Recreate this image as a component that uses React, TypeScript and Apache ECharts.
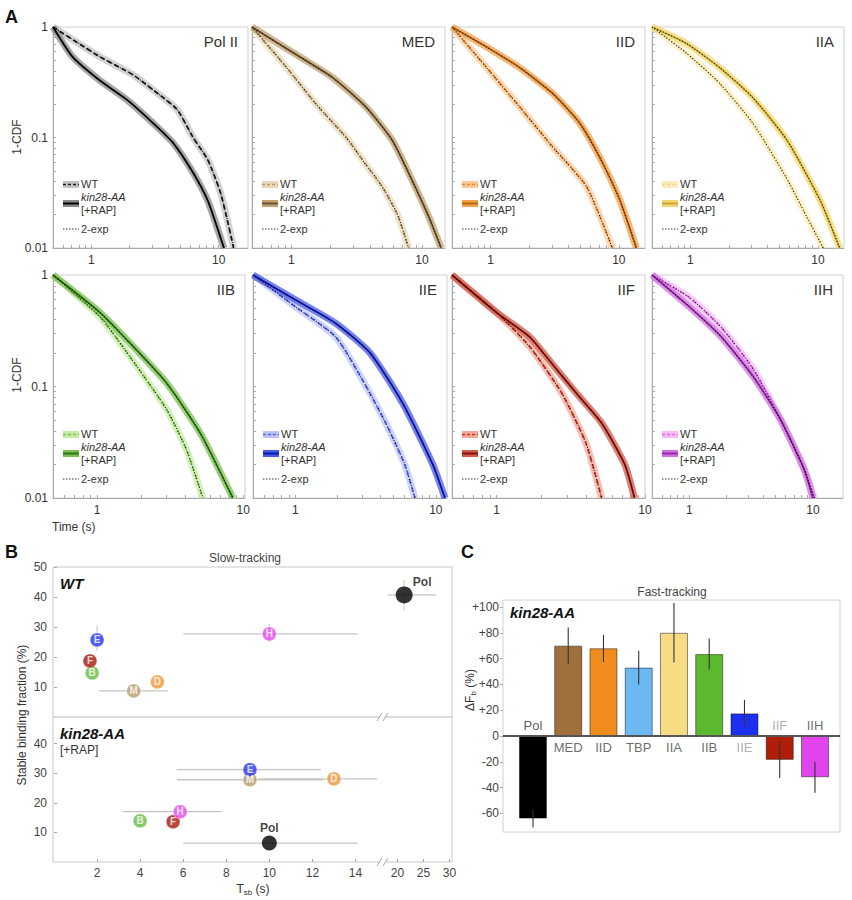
import { useEffect, useRef } from 'react';
import * as echarts from 'echarts';

const FONT = '"Liberation Sans", Arial, Helvetica, sans-serif';
type Pt = [number, number];

// ---------- Panel A: 1-CDF survival curves [time (s), 1-CDF] ----------
const polII_WT: Pt[] = [[0.5, 1], [1.16, 0.54], [2.12, 0.37], [3.05, 0.27], [4.7, 0.18], [6.3, 0.1], [8.2, 0.063], [10.4, 0.031], [13.1, 0.01]];
const polII_KIN: Pt[] = [[0.5, 1], [0.71, 0.54], [1.16, 0.33], [1.9, 0.22], [3.05, 0.135], [4.4, 0.089], [6.3, 0.048], [8.2, 0.027], [9.8, 0.015], [11, 0.01]];
const med_WT: Pt[] = [[0.5, 1], [0.92, 0.43], [1.55, 0.2], [2.63, 0.1], [3.6, 0.06], [4.95, 0.036], [6.5, 0.02], [7.9, 0.01]];
const med_KIN: Pt[] = [[0.5, 1], [1.15, 0.54], [2.06, 0.35], [3.7, 0.19], [5.9, 0.095], [8.4, 0.041], [11.3, 0.019], [14, 0.01]];
const iid_WT: Pt[] = [[0.5, 1], [0.93, 0.43], [1.68, 0.19], [3.05, 0.082], [5.6, 0.036], [8.9, 0.01]];
const iid_KIN: Pt[] = [[0.5, 1], [0.93, 0.66], [1.68, 0.43], [3.05, 0.25], [4.95, 0.135], [7.1, 0.066], [10.2, 0.027], [13.7, 0.01]];
const iia_WT: Pt[] = [[0.5, 1], [0.93, 0.58], [1.69, 0.31], [3.08, 0.135], [5.6, 0.044], [8.2, 0.019], [11, 0.01]];
const iia_KIN: Pt[] = [[0.5, 1], [0.93, 0.71], [1.69, 0.43], [3.08, 0.23], [5.7, 0.095], [10.4, 0.027], [14.8, 0.01]];
const iib_WT: Pt[] = [[0.5, 1], [1.05, 0.42], [1.76, 0.17], [3.0, 0.062], [4.1, 0.027], [5.3, 0.01]];
const iib_KIN: Pt[] = [[0.5, 1], [1.05, 0.46], [1.76, 0.23], [3.0, 0.107], [5.1, 0.038], [8.5, 0.01]];
const iie_WT: Pt[] = [[0.5, 1], [1.0, 0.52], [1.93, 0.28], [3.0, 0.115], [4.4, 0.047], [6.0, 0.02], [7.1, 0.01]];
const iie_KIN: Pt[] = [[0.5, 1], [1.0, 0.6], [1.93, 0.37], [3.4, 0.2], [5.8, 0.071], [9.5, 0.02], [11.6, 0.01]];
const iif_WT: Pt[] = [[0.5, 1], [1.0, 0.46], [1.66, 0.23], [2.75, 0.087], [4.0, 0.031], [5.1, 0.01]];
const iif_KIN: Pt[] = [[0.5, 1], [1.0, 0.46], [1.66, 0.28], [2.36, 0.16], [3.5, 0.085], [5.1, 0.047], [7.3, 0.02], [8.5, 0.01]];
const iih_WT: Pt[] = [[0.5, 1], [1.0, 0.63], [1.81, 0.34], [3.34, 0.14], [5.5, 0.05], [8.5, 0.018], [10.3, 0.01]];
const iih_KIN: Pt[] = [[0.5, 1], [1.0, 0.52], [1.81, 0.28], [3.34, 0.12], [5.5, 0.05], [8.5, 0.018], [10, 0.01]];

const panelTitles = ['Pol II', 'MED', 'IID', 'IIA', 'IIB', 'IIE', 'IIF', 'IIH'];
const panelWT = [polII_WT, med_WT, iid_WT, iia_WT, iib_WT, iie_WT, iif_WT, iih_WT];
const panelKIN = [polII_KIN, med_KIN, iid_KIN, iia_KIN, iib_KIN, iie_KIN, iif_KIN, iih_KIN];
const panelXMax = [17, 15, 16, 16, 10.3, 12, 10, 17.5];
const xTickValues = [0.5, 0.6, 0.7, 0.8, 0.9, 1, 2, 3, 4, 5, 6, 7, 8, 9, 10, 20];
const xLabelValues = [1, 10];
const yTickValues = [0.01, 0.02, 0.03, 0.04, 0.05, 0.06, 0.07, 0.08, 0.09, 0.1, 0.2, 0.3, 0.4, 0.5, 0.6, 0.7, 0.8, 0.9, 1];
const yLabelValues = [0.01, 0.1, 1];

// ---------- Panel B: slow-tracking ----------
const bLetters = ['Pol', 'M', 'D', 'B', 'E', 'F', 'H'];
const wtTsb = [21.3, 3.7, 4.8, 1.77, 2.0, 1.67, 10.0];
const wtFrac = [40.7, 8.7, 11.7, 14.7, 25.7, 18.7, 27.7];
const wtTsbLo = [18.1, 2.1, 4.5, 1.6, 1.8, 1.5, 6.0];
const wtTsbHi = [27.5, 5.3, 5.2, 1.9, 2.2, 1.8, 14.1];
const wtFracLo = [35.7, 7.5, 10.5, 13.5, 22, 17, 25];
const wtFracHi = [45.7, 10, 13, 16, 30.5, 20.5, 31];
const kinTsb = [10.0, 9.1, 13.0, 4.0, 9.1, 5.53, 5.86];
const kinFrac = [6.4, 27.8, 28.1, 13.9, 31.2, 13.6, 17.0];
const kinTsbLo = [6.0, 5.7, 9.5, 3.8, 5.7, 5.3, 3.2];
const kinTsbHi = [14.1, 12.5, 15.5, 4.2, 12.4, 5.8, 7.8];
const kinFracLo = [5.4, 26.8, 27.1, 12.9, 30.2, 12.6, 16.0];
const kinFracHi = [7.4, 28.8, 29.1, 14.9, 32.2, 14.6, 18.0];
const bLeftTicks = [2, 4, 6, 8, 10, 12, 14];
const bRightTicks = [20, 25, 30];
const bWtYTicks = [10, 20, 30, 40, 50];
const bKinYTicks = [10, 20, 30, 40];

// ---------- Panel C: fast-tracking ----------
const cCats = ['Pol', 'MED', 'IID', 'TBP', 'IIA', 'IIB', 'IIE', 'IIF', 'IIH'];
const cVals = [-64, 70, 68, 53, 80, 63.5, 17.5, -18.5, -32];
const cErr = [7, 14, 10.5, 13, 23, 12, 10.5, 14, 12];
const cYTicks = [-60, -40, -20, 0, 20, 40, 60, 80, 100];

// ---------- styles ----------
const panelColors = [
  { wt: '#1a1a1a', wtBand: '#c4c4c4', kin: '#000000', kinBand: '#8a8a8a' },
  { wt: '#b59a6a', wtBand: '#e8d8b8', kin: '#6b5230', kinBand: '#c2a070' },
  { wt: '#ec8a32', wtBand: '#f9c998', kin: '#b8640e', kinBand: '#f2a04a' },
  { wt: '#eed886', wtBand: '#faeec0', kin: '#c8a830', kinBand: '#f2d870' },
  { wt: '#76c646', wtBand: '#c8eaa8', kin: '#2f7a14', kinBand: '#7cc052' },
  { wt: '#5868ee', wtBand: '#bcc4fa', kin: '#0c1aa8', kinBand: '#4a5ae8' },
  { wt: '#cc3a28', wtBand: '#f3a898', kin: '#881008', kinBand: '#d25a48' },
  { wt: '#e26aea', wtBand: '#f6bcf9', kin: '#9a2aa8', kinBand: '#d070e0' },
];
const bColors = ['#000000', '#b89a6a', '#f0963a', '#66bc40', '#2436ee', '#a41a0e', '#e24cea'];
const cColors = ['#000000', '#a0703c', '#f08c1e', '#6cb8f0', '#f8dc84', '#5cb82c', '#1c30f0', '#b01e0a', '#e044ec'];
const cLabelColors = ['#333', '#444', '#444', '#444', '#444', '#444', '#999', '#999', '#444'];

const aGrids = [
  { left: 53, top: 27, width: 195, height: 221 },
  { left: 252, top: 27, width: 193, height: 221 },
  { left: 452, top: 27, width: 193, height: 221 },
  { left: 652, top: 27, width: 192, height: 221 },
  { left: 53, top: 275, width: 192, height: 223 },
  { left: 253, top: 275, width: 194, height: 223 },
  { left: 452, top: 275, width: 193, height: 223 },
  { left: 652, top: 275, width: 191, height: 223 },
];

function txt(x: number, y: number, text: string, o: any = {}) {
  return {
    type: 'text', x, y, rotation: o.rot || 0, silent: true,
    style: {
      text, fill: o.color || '#333', fontSize: o.size || 12, fontFamily: FONT,
      fontWeight: o.weight || 'normal', fontStyle: o.italic ? 'italic' : 'normal',
      align: o.align || 'left', verticalAlign: 'middle', rich: o.rich,
    },
  };
}
function ln(x1: number, y1: number, x2: number, y2: number, stroke = '#c8c8c8', w = 1, dash?: number[]) {
  return { type: 'line', silent: true, shape: { x1, y1, x2, y2 }, style: { stroke, lineWidth: w, lineDash: dash } };
}

const vErrRender = (color: string, w: number) => (params: any, api: any) => {
  const x = api.value(0);
  const p1 = api.coord([x, api.value(1)]);
  const p2 = api.coord([x, api.value(2)]);
  return { type: 'line', shape: { x1: p1[0], y1: p1[1], x2: p2[0], y2: p2[1] }, style: { stroke: color, lineWidth: w } };
};
const hErrRender = (color: string, w: number) => (params: any, api: any) => {
  const y = api.value(2);
  const p1 = api.coord([api.value(0), y]);
  const p2 = api.coord([api.value(1), y]);
  return { type: 'line', shape: { x1: p1[0], y1: p1[1], x2: p2[0], y2: p2[1] }, style: { stroke: color, lineWidth: w } };
};

function buildOption() {
  const grid: any[] = [];
  const xAxis: any[] = [];
  const yAxis: any[] = [];
  const series: any[] = [];
  const graphic: any[] = [];

  // ----- Panel A -----
  aGrids.forEach((g, i) => {
    grid.push({ ...g, show: true, borderColor: '#d0d0d0', borderWidth: 1 });
    xAxis.push({
      type: 'log', logBase: 10, gridIndex: i, min: 0.5, max: panelXMax[i],
      axisLine: { show: true, onZero: false, lineStyle: { color: '#aaa' } },
      axisTick: { show: true, inside: true, length: 3, customValues: xTickValues, lineStyle: { color: '#aaa' } },
      axisLabel: { customValues: xLabelValues, color: '#333', fontSize: 12, margin: 6, fontFamily: FONT, formatter: (v: number) => String(v) },
      splitLine: { show: false },
    });
    yAxis.push({
      type: 'log', logBase: 10, gridIndex: i, min: 0.01, max: 1,
      axisLine: { show: true, onZero: false, lineStyle: { color: '#aaa' } },
      axisTick: { show: true, inside: true, length: 3, customValues: yTickValues, lineStyle: { color: '#aaa' } },
      axisLabel: { show: i % 4 === 0, customValues: yLabelValues, color: '#333', fontSize: 12, margin: 5, fontFamily: FONT, formatter: (v: number) => String(v) },
      splitLine: { show: false },
    });
    const c = panelColors[i];
    const curves: [Pt[], string, string, boolean][] = [
      [panelWT[i], c.wt, c.wtBand, true],
      [panelKIN[i], c.kin, c.kinBand, false],
    ];
    curves.forEach(([data, col, band, dashed]) => {
      const base = { type: 'line', xAxisIndex: i, yAxisIndex: i, data, showSymbol: false, smooth: 0.2, silent: true };
      series.push({ ...base, z: 2, lineStyle: { width: 7, color: band, opacity: 0.75 } });
      series.push({ ...base, z: 3, lineStyle: { width: 1.8, color: col, type: dashed ? [5, 3] : 'solid' } });
      series.push({ ...base, z: 4, lineStyle: { width: 1.1, color: '#111', type: [1, 2] } });
    });
    // title
    graphic.push(txt(g.left + g.width - 10, g.top + 14, panelTitles[i], { size: 15, align: 'right', color: '#333' }));
    // legend
    const L = g.left, B = g.top + g.height;
    graphic.push({ type: 'rect', silent: true, shape: { x: L + 10, y: B - 67, width: 16, height: 7 }, style: { fill: c.wtBand } });
    graphic.push(ln(L + 10, B - 63.5, L + 26, B - 63.5, c.wt, 1.6, [3, 2]));
    graphic.push({ type: 'rect', silent: true, shape: { x: L + 10, y: B - 48, width: 16, height: 7 }, style: { fill: c.kinBand } });
    graphic.push(ln(L + 10, B - 44.5, L + 26, B - 44.5, c.kin, 2));
    graphic.push(ln(L + 10, B - 19, L + 26, B - 19, '#333', 1.2, [1.5, 1.5]));
    graphic.push(txt(L + 28, B - 64, 'WT', { size: 11 }));
    graphic.push(txt(L + 28, B - 51, 'kin28-AA', { size: 11, italic: true }));
    graphic.push(txt(L + 28, B - 38, '[+RAP]', { size: 11 }));
    graphic.push(txt(L + 28, B - 19, '2-exp', { size: 11 }));
  });
  graphic.push(txt(5, 17, 'A', { size: 18, weight: 'bold', color: '#111' }));
  graphic.push(txt(17, 137, '1-CDF', { size: 12, rot: Math.PI / 2, align: 'center' }));
  graphic.push(txt(17, 375, '1-CDF', { size: 12, rot: Math.PI / 2, align: 'center' }));
  graphic.push(txt(52, 527, 'Time (s)', { size: 12 }));

  // ----- Panel B -----
  const bGrids = [
    { left: 54, top: 567, width: 323, height: 150 },
    { left: 387, top: 567, width: 65, height: 150 },
    { left: 54, top: 717, width: 323, height: 145 },
    { left: 387, top: 717, width: 65, height: 145 },
  ];
  bGrids.forEach((g, k) => {
    const gi = 8 + k;
    const isLeft = k % 2 === 0;
    const isBottom = k >= 2;
    grid.push({ ...g });
    xAxis.push({
      type: 'value', gridIndex: gi, min: isLeft ? 0 : 18, max: isLeft ? 15 : 30.5,
      axisLine: { show: false, onZero: false }, splitLine: { show: false },
      axisTick: { show: isBottom, inside: true, length: 3, customValues: isLeft ? bLeftTicks : bRightTicks, lineStyle: { color: '#aaa' } },
      axisLabel: { show: isBottom, customValues: isLeft ? bLeftTicks : bRightTicks, color: '#444', fontSize: 12, margin: 5, fontFamily: FONT },
    });
    yAxis.push({
      type: 'value', gridIndex: gi, min: 0, max: isBottom ? 49 : 50,
      axisLine: { show: false, onZero: false }, splitLine: { show: false },
      axisTick: { show: isLeft, inside: true, length: 3, customValues: isBottom ? bKinYTicks : bWtYTicks, lineStyle: { color: '#aaa' } },
      axisLabel: { show: isLeft, customValues: isBottom ? bKinYTicks : bWtYTicks, color: '#444', fontSize: 12, margin: 7, fontFamily: FONT },
    });
  });
  const addB = (tsb: number[], frac: number[], tLo: number[], tHi: number[], fLo: number[], fHi: number[], leftG: number, rightG: number, isWT: boolean) => {
    [leftG, rightG].forEach((gi, side) => {
      const lo = side === 0 ? 0 : 18;
      const hi = side === 0 ? 15 : 30.5;
      const idx = tsb.map((_, i) => i).filter((i) => (side === 0 ? tsb[i] <= 15 : tsb[i] > 15));
      const hData = idx.filter((i) => tHi[i] - tLo[i] > 0.8).map((i) => [Math.max(tLo[i], lo), Math.min(tHi[i], hi), frac[i]]);
      const vData = idx.filter((i) => fHi[i] - fLo[i] > 2.5).map((i) => [tsb[i], fLo[i], fHi[i]]);
      series.push({ type: 'custom', xAxisIndex: gi, yAxisIndex: gi, data: hData, encode: { x: [0, 1], y: 2 }, renderItem: hErrRender('#c4c4c4', 1.3), silent: true, z: 2 });
      series.push({ type: 'custom', xAxisIndex: gi, yAxisIndex: gi, data: vData, encode: { x: 0, y: [1, 2] }, renderItem: vErrRender('#d0d0d0', 1.3), silent: true, z: 2 });
      series.push({
        type: 'scatter', xAxisIndex: gi, yAxisIndex: gi, silent: true, z: 3,
        data: idx.map((i) => {
          const isPol = bLetters[i] === 'Pol';
          return {
            value: [tsb[i], frac[i]],
            symbolSize: isPol ? (isWT ? 17 : 15) : 14,
            itemStyle: { color: bColors[i], borderColor: isPol ? '#000' : 'rgba(255,255,255,0.6)', borderWidth: isPol ? 0 : 1 },
            label: isPol
              ? { show: true, formatter: 'Pol', position: 'top', offset: isWT ? [18, 7] : [0, 3], color: '#111', fontWeight: 'bold', fontSize: 12, fontFamily: FONT }
              : { show: true, formatter: bLetters[i], position: 'inside', color: '#fff', fontWeight: 'bold', fontSize: 10, fontFamily: FONT },
          };
        }),
      });
    });
  };
  addB(wtTsb, wtFrac, wtTsbLo, wtTsbHi, wtFracLo, wtFracHi, 8, 9, true);
  addB(kinTsb, kinFrac, kinTsbLo, kinTsbHi, kinFracLo, kinFracHi, 10, 11, false);

  graphic.push(txt(5, 552, 'B', { size: 18, weight: 'bold', color: '#111' }));
  graphic.push(txt(245, 558, 'Slow-tracking', { size: 12, align: 'center', color: '#444' }));
  graphic.push(ln(53, 567, 452, 567));
  graphic.push(ln(53, 567, 53, 862));
  graphic.push(ln(452, 567, 452, 862));
  graphic.push(ln(53, 862, 380, 862));
  graphic.push(ln(386, 862, 452, 862));
  graphic.push(ln(53, 717, 380, 717, '#b8b8b8'));
  graphic.push(ln(386, 717, 452, 717, '#b8b8b8'));
  graphic.push(ln(377, 866, 382, 858, '#aaa'));
  graphic.push(ln(383, 866, 388, 858, '#aaa'));
  graphic.push(ln(377, 721, 382, 713, '#aaa'));
  graphic.push(ln(383, 721, 388, 713, '#aaa'));
  graphic.push(txt(60, 583, 'WT', { size: 15, weight: 'bold', italic: true, color: '#111' }));
  graphic.push(txt(60, 733, 'kin28-AA', { size: 15, weight: 'bold', italic: true, color: '#111' }));
  graphic.push(txt(60, 750, '[+RAP]', { size: 12 }));
  graphic.push(txt(22, 715, 'Stable binding fraction (%)', { size: 12, rot: Math.PI / 2, align: 'center' }));
  const tsbLabel = txt(253, 889, '', {
    align: 'center',
    rich: { m: { fontSize: 12, fill: '#333', fontFamily: FONT }, s: { fontSize: 8, fill: '#333', fontFamily: FONT, padding: [6, 0, 0, 0] } },
  });
  (tsbLabel.style as any).text = '{m|T}{s|sb}{m| (s)}';
  graphic.push(tsbLabel);

  // ----- Panel C -----
  const gc = 12;
  grid.push({ left: 503, top: 600, width: 337, height: 232, show: true, borderColor: '#d0d0d0', borderWidth: 1 });
  xAxis.push({ type: 'value', gridIndex: gc, min: -0.85, max: 8.71, show: false, splitLine: { show: false }, axisLine: { onZero: false } });
  yAxis.push({
    type: 'value', gridIndex: gc, min: -74.4, max: 105.4,
    axisLine: { show: false, onZero: false }, splitLine: { show: false },
    axisTick: { show: true, length: 3, customValues: cYTicks, lineStyle: { color: '#aaa' } },
    axisLabel: { customValues: cYTicks, color: '#444', fontSize: 12, margin: 4, fontFamily: FONT, formatter: (v: number) => (v > 0 ? '+' + v : String(v)) },
  });
  series.push({
    type: 'bar', xAxisIndex: gc, yAxisIndex: gc, barWidth: 28, silent: true, z: 2,
    itemStyle: { borderColor: 'rgba(0,0,0,0.45)', borderWidth: 1 },
    data: cVals.map((v, i) => ({ value: [i, v], itemStyle: { color: cColors[i] } })),
    markLine: { silent: true, symbol: 'none', label: { show: false }, lineStyle: { color: '#555', width: 2, type: 'solid' }, data: [{ yAxis: 0 }] },
  });
  series.push({
    type: 'custom', xAxisIndex: gc, yAxisIndex: gc, silent: true, z: 3,
    data: cVals.map((v, i) => [i, v - cErr[i], v + cErr[i]]),
    encode: { x: 0, y: [1, 2] }, renderItem: vErrRender('#333', 1.1),
  });
  series.push({
    type: 'scatter', xAxisIndex: gc, yAxisIndex: gc, silent: true, z: 4, symbolSize: 1,
    itemStyle: { color: 'rgba(0,0,0,0)' },
    data: cCats.map((c, i) => ({
      value: [i, 0],
      label: { show: true, formatter: c, position: cVals[i] < 0 ? 'top' : 'bottom', distance: 4, color: cLabelColors[i], fontSize: 13, fontFamily: FONT },
    })),
  });
  graphic.push(txt(461, 552, 'C', { size: 18, weight: 'bold', color: '#111' }));
  graphic.push(txt(672, 592, 'Fast-tracking', { size: 12, align: 'center', color: '#444' }));
  graphic.push(txt(510, 612, 'kin28-AA', { size: 15, weight: 'bold', italic: true, color: '#111' }));
  const dl = txt(470, 690, '', {
    align: 'center', rot: Math.PI / 2,
    rich: { m: { fontSize: 12, fill: '#333', fontFamily: FONT }, s: { fontSize: 8, fill: '#333', fontFamily: FONT, padding: [6, 0, 0, 0] } },
  });
  (dl.style as any).text = '{m|ΔF}{s|b}{m| (%)}';
  graphic.push(dl);

  return {
    animation: false,
    backgroundColor: '#ffffff',
    textStyle: { fontFamily: FONT },
    grid, xAxis, yAxis, series, graphic,
  };
}

export default function App() {
  const ref = useRef<HTMLDivElement>(null);
  useEffect(() => {
    if (!ref.current) return;
    const chart = echarts.init(ref.current, null, { renderer: 'svg' });
    chart.setOption(buildOption() as any);
    return () => chart.dispose();
  }, []);
  return <div ref={ref} style={{ position: 'absolute', left: 0, top: 0, width: 852, height: 900, background: '#fff' }} />;
}
